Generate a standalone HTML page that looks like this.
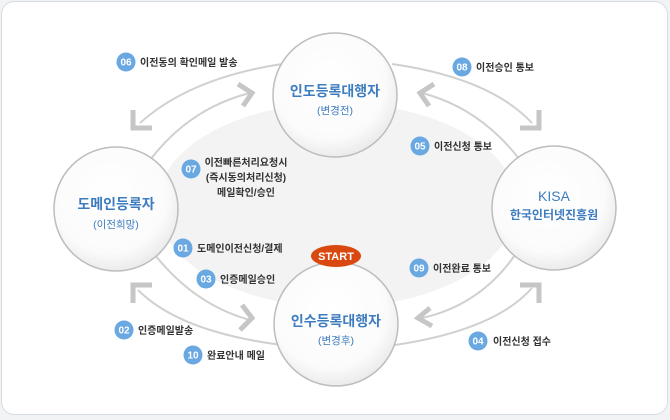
<!DOCTYPE html>
<html><head><meta charset="utf-8"><style>
html,body{margin:0;padding:0;background:#f1f3f5;}
svg{display:block}
text{font-family:"Liberation Sans","Noto Sans CJK KR",sans-serif;}
.l{font-size:10px;fill:#333;font-weight:bold;}
.b{font-size:10px;fill:#fff;font-weight:bold;}
.t{font-size:14px;fill:#3d7cbf;font-weight:bold;}
.s{font-size:10.5px;fill:#3d7cbf;}
</style></head><body>
<svg width="670" height="420" viewBox="0 0 670 420" xmlns="http://www.w3.org/2000/svg">
<defs>
<radialGradient id="cg" cx="0.45" cy="0.4" r="0.65">
<stop offset="0" stop-color="#ffffff"/><stop offset="0.7" stop-color="#fbfbfb"/><stop offset="1" stop-color="#e6e6e6"/>
</radialGradient>
</defs>
<rect x="1.5" y="1.5" width="666" height="413" rx="13" fill="#fff" stroke="#d8dde3"/>
<ellipse cx="337" cy="205" rx="180" ry="102" fill="#f3f3f3"/>
<g fill="none" stroke="#d0d0d0" stroke-width="2">
<path d="M282 64 Q190 78 140 123"/>
<path d="M150 160 Q190 108 250 93"/>
<path d="M392 64 Q490 78 532 123"/>
<path d="M520 160 Q480 108 422 93"/>
<path d="M515 255 Q480 305 422 318"/>
<path d="M395 345 Q495 330 532 288"/>
<path d="M282 345 Q180 332 138 290"/>
<path d="M155 255 Q195 305 250 320"/>
</g>
<g fill="none" stroke="#c6c6c6" stroke-width="5" stroke-linejoin="miter">
<polyline points="133,110 133,128 152,128"/>
<polyline points="238,84 252,93 243,106"/>
<polyline points="539,110 539,128 520,128"/>
<polyline points="434,84 420,93 429,106"/>
<polyline points="539,303 539,285 520,285"/>
<polyline points="430,308 418,318 432,326"/>
<polyline points="133,303 133,285 152,285"/>
<polyline points="242,305 252,318 240,330"/>
</g>
<g stroke="#bdbdbd" stroke-width="1.5" fill="url(#cg)">
<circle cx="335" cy="95" r="62"/>
<circle cx="116" cy="209" r="62"/>
<circle cx="554" cy="208" r="62"/>
<circle cx="336" cy="324" r="62"/>
</g>
<text class="t" x="335" y="96" text-anchor="middle">인도등록대행자</text>
<text class="s" x="335" y="114" text-anchor="middle">(변경전)</text>
<text class="t" x="116" y="209" text-anchor="middle">도메인등록자</text>
<text class="s" x="116" y="228" text-anchor="middle">(이전희망)</text>
<text x="554" y="201" text-anchor="middle" style="font-size:14px;fill:#3d7cbf">KISA</text>
<text x="554" y="219" text-anchor="middle" style="font-size:12px;fill:#3d7cbf;font-weight:bold">한국인터넷진흥원</text>
<text class="t" x="336" y="326" text-anchor="middle">인수등록대행자</text>
<text class="s" x="336" y="344" text-anchor="middle">(변경후)</text>
<ellipse cx="336" cy="256" rx="25" ry="11" fill="#d9480f"/>
<text x="336" y="260" text-anchor="middle" style="font-size:11px;fill:#fff;font-weight:bold">START</text>
<g fill="#6aa8e2">
<circle cx="126" cy="62" r="9.5"/><circle cx="462" cy="67" r="9.5"/>
<circle cx="191" cy="169" r="9.5"/><circle cx="420" cy="146" r="9.5"/>
<circle cx="183" cy="248" r="9.5"/><circle cx="206" cy="279" r="9.5"/>
<circle cx="419" cy="268" r="9.5"/><circle cx="124" cy="330" r="9.5"/>
<circle cx="193" cy="355" r="9.5"/><circle cx="478" cy="341" r="9.5"/>
</g>
<g text-anchor="middle">
<text class="b" x="126" y="65.5">06</text><text class="b" x="462" y="70.5">08</text>
<text class="b" x="191" y="172.5">07</text><text class="b" x="420" y="149.5">05</text>
<text class="b" x="183" y="251.5">01</text><text class="b" x="206" y="282.5">03</text>
<text class="b" x="419" y="271.5">09</text><text class="b" x="124" y="333.5">02</text>
<text class="b" x="193" y="358.5">10</text><text class="b" x="478" y="344.5">04</text>
</g>
<text class="l" x="140" y="66">이전동의 확인메일 발송</text>
<text class="l" x="476" y="71">이전승인 통보</text>
<text class="l" x="246" y="166" text-anchor="middle">이전빠른처리요청시</text>
<text class="l" x="246" y="181" text-anchor="middle">(즉시동의처리신청)</text>
<text class="l" x="246" y="196" text-anchor="middle">메일확인/승인</text>
<text class="l" x="434" y="150">이전신청 통보</text>
<text class="l" x="197" y="252">도메인이전신청/결제</text>
<text class="l" x="220" y="283">인증메일승인</text>
<text class="l" x="433" y="272">이전완료 통보</text>
<text class="l" x="138" y="334">인증메일발송</text>
<text class="l" x="207" y="359">완료안내 메일</text>
<text class="l" x="493" y="345">이전신청 접수</text>
</svg>
</body></html>
